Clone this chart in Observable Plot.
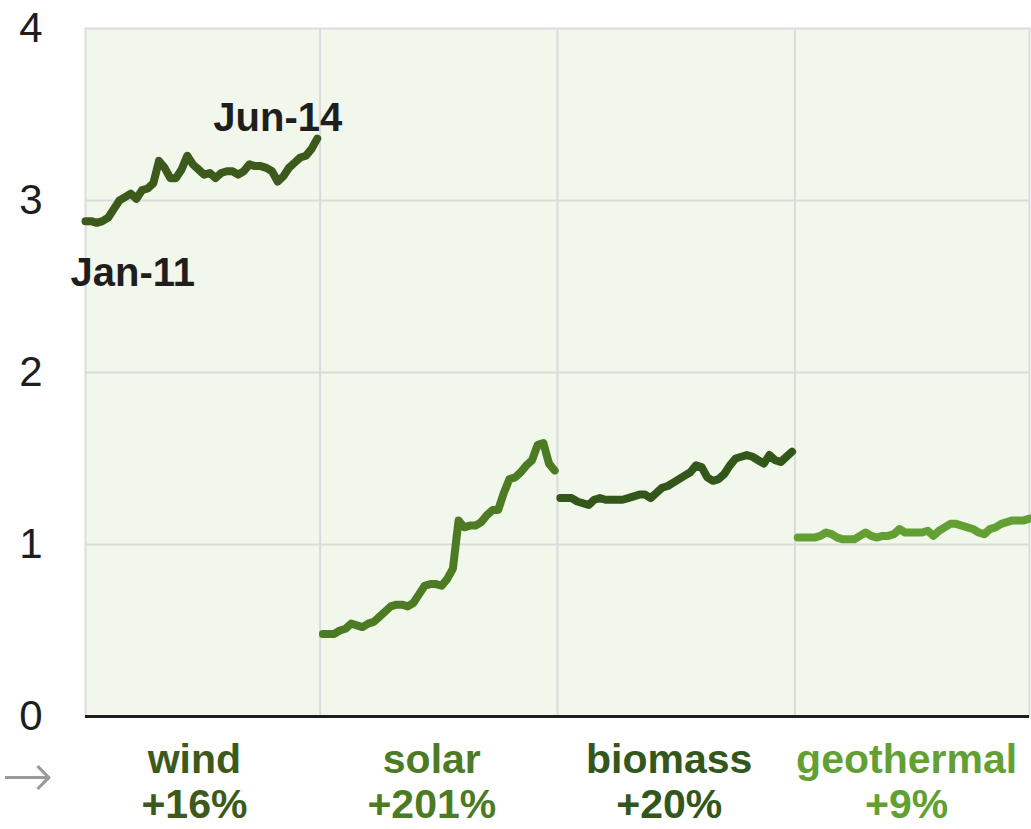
<!DOCTYPE html>
<html>
<head>
<meta charset="utf-8">
<script src="https://cdn.jsdelivr.net/npm/d3@7"></script>
<script src="https://cdn.jsdelivr.net/npm/@observablehq/plot@0.6"></script>
<style>
  html, body { margin: 0; padding: 0; background: #ffffff; }
  #chart { width: 1031px; height: 829px; overflow: hidden; }
</style>
</head>
<body>
<div id="chart"></div>
<script>
// ---- data (monthly, Jan-11 .. Jun-14, 42 months per source) ----
const categories = ["wind", "solar", "biomass", "geothermal"];
const changes = ["+16%", "+201%", "+20%", "+9%"];
const startLabel = "Jan-11";
const endLabel = "Jun-14";

const wind = [2.88, 2.88, 2.87, 2.88, 2.90, 2.95, 3.00, 3.02, 3.04, 3.01,
              3.06, 3.07, 3.10, 3.23, 3.19, 3.13, 3.13, 3.18, 3.26, 3.21,
              3.18, 3.15, 3.16, 3.13, 3.16, 3.17, 3.17, 3.15, 3.17, 3.21,
              3.20, 3.20, 3.19, 3.17, 3.11, 3.14, 3.19, 3.22, 3.25, 3.26,
              3.30, 3.36];
const solar = [0.48, 0.48, 0.48, 0.50, 0.51, 0.54, 0.53, 0.52, 0.54, 0.55,
               0.58, 0.61, 0.64, 0.65, 0.65, 0.64, 0.66, 0.71, 0.76, 0.77,
               0.77, 0.76, 0.80, 0.86, 1.14, 1.10, 1.11, 1.11, 1.13, 1.17,
               1.20, 1.20, 1.30, 1.38, 1.39, 1.42, 1.46, 1.49, 1.58, 1.59,
               1.47, 1.43];
const biomass = [1.27, 1.27, 1.27, 1.25, 1.24, 1.23, 1.26, 1.27, 1.26, 1.26,
                 1.26, 1.26, 1.27, 1.28, 1.29, 1.29, 1.27, 1.30, 1.33, 1.34,
                 1.36, 1.38, 1.40, 1.42, 1.46, 1.45, 1.39, 1.37, 1.38, 1.41,
                 1.46, 1.50, 1.51, 1.52, 1.51, 1.49, 1.47, 1.52, 1.49, 1.48,
                 1.51, 1.54];
const geothermal = [1.04, 1.04, 1.04, 1.04, 1.05, 1.07, 1.06, 1.04, 1.03, 1.03,
                    1.03, 1.05, 1.07, 1.05, 1.04, 1.05, 1.05, 1.06, 1.09, 1.07,
                    1.07, 1.07, 1.07, 1.08, 1.05, 1.08, 1.10, 1.12, 1.12, 1.11,
                    1.10, 1.09, 1.07, 1.06, 1.09, 1.10, 1.12, 1.13, 1.14, 1.14,
                    1.14, 1.15];
const yTicks = [0, 1, 2, 3, 4];

// ---- build table: one continuous index across the four panels ----
const seriesValues = [wind, solar, biomass, geothermal];
const rows = [];
const panels = [];
let offset = 0;
seriesValues.forEach((vals, s) => {
  vals.forEach((v, i) => rows.push({series: categories[s], x: offset + i, value: v, i}));
  panels.push({series: categories[s], change: changes[s], start: offset, end: offset + vals.length - 1,
               mid: offset + (vals.length - 1) / 2});
  offset += vals.length;
});
const boundaries = panels.slice(0, -1).map(p => p.end + 0.5);
const windRows = rows.filter(d => d.series === "wind");
const firstPt = windRows[0];
const lastPt = windRows[windRows.length - 1];

const colors = ["#3b5a1c", "#4c7b24", "#33561a", "#62a033"];
const font = "'Liberation Sans', Arial, Helvetica, sans-serif";

const chart = Plot.plot({
  width: 1031,
  height: 829,
  marginLeft: 85,
  marginRight: 2,
  marginTop: 28,
  marginBottom: 113,
  x: {domain: [0, offset - 1], axis: null},
  y: {domain: [0, 4], axis: null},
  color: {domain: categories, range: colors},
  style: {fontFamily: font, background: "#ffffff", color: "#1e1e1e", overflow: "visible"},
  marks: [
    Plot.frame({fill: "#f2f7ec", stroke: "#dcdcdc", strokeWidth: 2}),
    Plot.ruleY([1, 2, 3], {stroke: "#dadada", strokeWidth: 2}),
    Plot.ruleX(boundaries, {stroke: "#dadada", strokeWidth: 2}),
    Plot.axisY({ticks: yTicks, tickFormat: "d", tickSize: 0, tickPadding: 43, label: null,
                fontSize: 42, fill: "#1e1e1e"}),
    Plot.ruleY([0], {stroke: "#1e1e1e", strokeWidth: 3}),
    Plot.line(rows, {x: "x", y: "value", z: "series", stroke: "series", strokeWidth: 8,
                     strokeLinejoin: "round", strokeLinecap: "round"}),
    Plot.text([firstPt], {x: "x", y: "value", text: () => startLabel, textAnchor: "start",
                          dx: -15, dy: 52, fontSize: 40, fontWeight: "bold", fill: "#1e1e1e"}),
    Plot.text([lastPt], {x: "x", y: "value", text: () => endLabel, textAnchor: "end",
                         dx: 25, dy: -20, fontSize: 40, fontWeight: "bold", fill: "#1e1e1e"}),
    Plot.text(panels, {x: "mid", text: "series", frameAnchor: "bottom", dy: 56, dx: -7,
                       fill: "series", fontSize: 41, fontWeight: "bold"}),
    Plot.text(panels, {x: "mid", text: "change", frameAnchor: "bottom", dy: 101, dx: -7,
                       fill: "series", fontSize: 41, fontWeight: "bold"}),
    Plot.text([firstPt], {x: "x", text: () => "\u2192", frameAnchor: "bottom", textAnchor: "start",
                          dx: -84, dy: 80, fontSize: 62, fill: "#9a9a9a",
                          fontFamily: "'DejaVu Sans', sans-serif", fontWeight: 200})
  ]
});
document.getElementById("chart").appendChild(chart);
</script>
</body>
</html>
